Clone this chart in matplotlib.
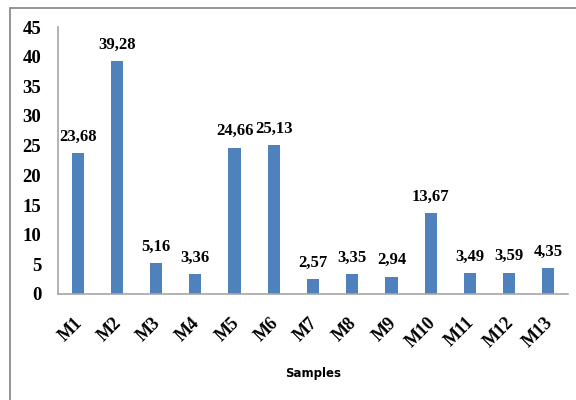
import matplotlib
matplotlib.use("Agg")
import matplotlib.pyplot as plt
import matplotlib.transforms as mtransforms
from matplotlib.patches import Rectangle

samples = ["M1", "M2", "M3", "M4", "M5", "M6", "M7", "M8", "M9", "M10", "M11", "M12", "M13"]
values = [23.68, 39.28, 5.16, 3.36, 24.66, 25.13, 2.57, 3.35, 2.94, 13.67, 3.49, 3.59, 4.35]
y_ticks = [0, 5, 10, 15, 20, 25, 30, 35, 40, 45]

serif = ["Liberation Serif", "DejaVu Serif"]
sans = ["DejaVu Sans", "Liberation Sans"]

fig = plt.figure(figsize=(5.76, 4.0), dpi=100)
fig.patches.append(Rectangle((10 / 576, -0.1), 1.2, (400 - 8) / 400 + 0.1,
                             transform=fig.transFigure, fill=False,
                             edgecolor="#8c8c8c", linewidth=1.3))

ax = fig.add_axes([58 / 576, 1 - 294 / 400, (568 - 58) / 576, (294 - 27) / 400])
x = list(range(len(samples)))
ax.bar(x, values, width=0.31, color="#4F81BD")
ax.set_xlim(-0.5, len(samples) - 0.5)
ax.set_ylim(0, 45)
ax.set_yticks(y_ticks)
ax.set_yticklabels([str(t) for t in y_ticks], family=serif, fontweight="bold", fontsize=13.5)
ax.set_xticks(x)
ax.set_xticklabels(samples, family=serif, fontweight="bold", fontsize=13,
                   rotation=45, ha="right", va="top", rotation_mode="anchor")
ax.tick_params(axis="both", length=0)
ax.tick_params(axis="y", pad=12)
ax.tick_params(axis="x", pad=8)

# nudge the rotated sample names down and slightly left
shift = mtransforms.ScaledTranslation(-4 / 100, -9 / 100, fig.dpi_scale_trans)
for lab in ax.get_xticklabels():
    lab.set_transform(lab.get_transform() + shift)

for s in ("top", "right"):
    ax.spines[s].set_visible(False)
for s in ("left", "bottom"):
    ax.spines[s].set_color("#a6a6a6")
    ax.spines[s].set_linewidth(1.2)

for xi, v in zip(x, values):
    ax.annotate(f"{v:.2f}".replace(".", ","), (xi, v), xytext=(0, 6),
                textcoords="offset points", ha="center", va="bottom",
                family=serif, fontweight="bold", fontsize=12)

fig.text((58 + 568) / 2 / 576, 1 - 374 / 400, "Samples", ha="center", va="center",
         family=sans, fontweight="bold", fontsize=8.5)

fig.savefig("out.png", dpi=100)
